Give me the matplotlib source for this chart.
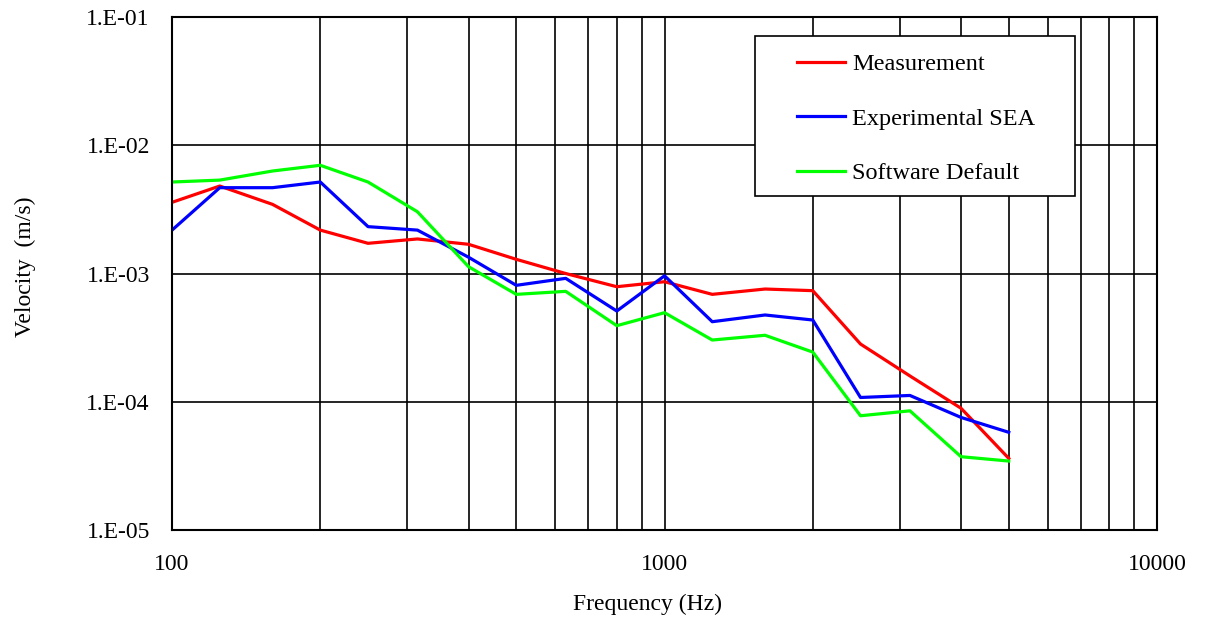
import numpy as np
import matplotlib
matplotlib.use('Agg')
import matplotlib.pyplot as plt
from matplotlib.patches import Rectangle
from matplotlib.ticker import FixedLocator, NullFormatter, NullLocator

# ----- datos -----
freq = [100, 125, 160, 200, 250, 315, 400, 500, 630, 800, 1000,
        1250, 1600, 2000, 2500, 3150, 4000, 5000]

measurement = [3.59e-3, 4.81e-3, 3.46e-3, 2.18e-3, 1.72e-3, 1.86e-3, 1.69e-3, 1.29e-3, 1.0e-3,
               7.89e-4, 8.63e-4, 6.88e-4, 7.57e-4, 7.35e-4, 2.82e-4, 1.59e-4, 8.9e-5, 3.62e-5]
experimental_sea = [2.18e-3, 4.67e-3, 4.67e-3, 5.17e-3, 2.32e-3, 2.18e-3, 1.34e-3, 8.09e-4, 9.17e-4,
                    5.1e-4, 9.6e-4, 4.21e-4, 4.75e-4, 4.34e-4, 1.08e-4, 1.12e-4, 7.55e-5, 5.78e-5]
software_default = [5.17e-3, 5.35e-3, 6.3e-3, 6.98e-3, 5.17e-3, 3.03e-3, 1.13e-3, 6.88e-4, 7.26e-4,
                    3.92e-4, 4.95e-4, 3.03e-4, 3.3e-4, 2.44e-4, 7.78e-5, 8.5e-5, 3.73e-5, 3.45e-5]

x_ticks = [100, 1000, 10000]
x_tick_labels = ['100', '1000', '10000']
y_ticks = [1e-5, 1e-4, 1e-3, 1e-2, 1e-1]
y_tick_labels = ['1.E-05', '1.E-04', '1.E-03', '1.E-02', '1.E-01']

plt.rcParams['font.family'] = ['Liberation Serif', 'DejaVu Serif']

fig = plt.figure(figsize=(12.09, 6.21), dpi=100)
ax = fig.add_axes([0.1423, 0.1465, 0.8147, 0.8261])

ax.plot(freq, measurement, color='#ff0000', lw=2.3, label='Measurement')
ax.plot(freq, experimental_sea, color='#0000ff', lw=2.3, label='Experimental SEA')
ax.plot(freq, software_default, color='#00ff00', lw=2.3, label='Software Default')

ax.set_xscale('log')
ax.set_yscale('log')
ax.set_xlim(100, 10000)
ax.set_ylim(1e-5, 1e-1)

ax.xaxis.set_major_locator(FixedLocator(x_ticks))
ax.set_xticklabels(x_tick_labels)
minors = [m * d for d in (100, 1000) for m in range(2, 10)]
ax.xaxis.set_minor_locator(FixedLocator(minors))
ax.xaxis.set_minor_formatter(NullFormatter())
ax.yaxis.set_major_locator(FixedLocator(y_ticks))
ax.set_yticklabels(y_tick_labels)
ax.yaxis.set_minor_locator(NullLocator())

ax.grid(True, which='major', color='black', lw=1.2)
ax.grid(True, which='minor', axis='x', color='black', lw=1.2)
ax.tick_params(which='both', length=0, labelsize=17)
ax.tick_params(axis='y', pad=16)
ax.tick_params(axis='x', pad=17)
for s in ax.spines.values():
    s.set_linewidth(1.5)
    s.set_color('black')

ax.set_xlabel('Frequency (Hz)', fontsize=17)
ax.xaxis.set_label_coords(0.483, -0.125)
ax.set_ylabel('Velocity  (m/s)', fontsize=17)
ax.yaxis.set_label_coords(-0.138, 0.513)

# caja de la leyenda
caja = Rectangle((0.592, 0.6517), 0.325, 0.3118, transform=ax.transAxes,
                 facecolor='white', edgecolor='black', lw=1.2, zorder=3)
ax.add_patch(caja)

leg = ax.legend(loc='upper left', bbox_to_anchor=(0.6345, 0.929),
                fontsize=17.5, frameon=False, labelspacing=1.33,
                handlelength=1.97, handletextpad=0.3, borderpad=0, borderaxespad=0)
leg.set_zorder(4)

fig.savefig('out.png', dpi=100)
